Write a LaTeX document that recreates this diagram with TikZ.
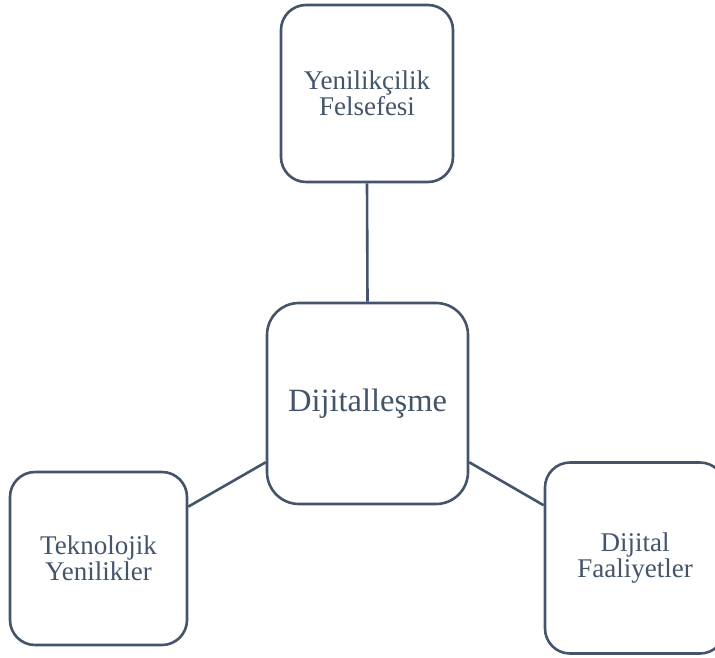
\documentclass[tikz,border=0pt]{standalone}
\usepackage{fontspec}
\setmainfont{Liberation Serif}
\usetikzlibrary{positioning}
\definecolor{slate}{HTML}{44546A}

\begin{document}
\begin{tikzpicture}[
  x=1pt, y=-1pt,
  box/.style={draw=slate, line width=2.6pt, fill=white, text=slate, align=center, inner sep=0pt},
  sidebox/.style={box, rounded corners=25pt, font=\fontsize{27}{26}\selectfont},
  hubbox/.style={box, rounded corners=32pt, font=\fontsize{32.5}{34}\selectfont},
  link/.style={draw=slate, line width=2.6pt}
]
\useasboundingbox (0,0) rectangle (715,657);

\node[hubbox, minimum width=201pt, minimum height=201pt] (dij) at (367.5,403.5) {Dijitalleşme};
\node[sidebox, minimum width=172pt, minimum height=177pt] (fel) at (367,93.5) {Yenilikçilik\\Felsefesi};
\node[sidebox, minimum width=177pt, minimum height=173pt] (tek) at (98.5,558.5) {Teknolojik\\Yenilikler};
\node[sidebox, minimum width=180pt, minimum height=191pt] (faa) at (635,558) {Dijital\\Faaliyetler};

\draw[link] (fel.south) -- (dij.north);
\draw[link] (tek.30) -- (dij.210);
\draw[link] (dij.330) -- (faa.150);
\end{tikzpicture}
\end{document}
